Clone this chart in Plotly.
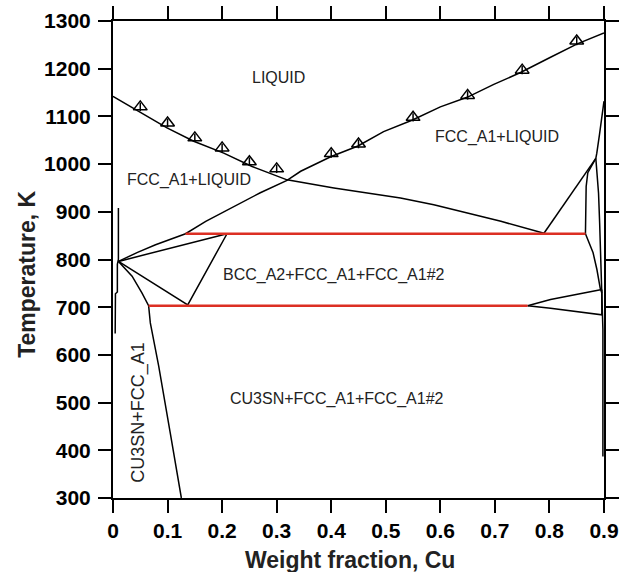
import plotly.graph_objects as go

# ---- calculated phase boundaries: weight fraction Cu vs temperature (K) ----
# liquidus falling from the Sn-rich side to the peritectic
liq_sn_x = [0.0, 0.047, 0.099, 0.148, 0.203, 0.255, 0.319, 0.405, 0.466, 0.527, 0.588, 0.649, 0.711, 0.790]
liq_sn_T = [1142, 1111, 1076, 1048, 1023, 995, 967, 950, 940, 929, 915, 898, 880, 855]

# liquidus rising towards the Cu-rich side
liq_cu_x = [0.010, 0.045, 0.078, 0.133, 0.170, 0.221, 0.270, 0.319, 0.344, 0.400, 0.449,
            0.496, 0.548, 0.600, 0.649, 0.698, 0.747, 0.802, 0.851, 0.900]
liq_cu_T = [796, 815, 831, 854, 880, 911, 940, 966, 985, 1016, 1038,
            1068, 1092, 1120, 1140, 1167, 1192, 1224, 1252, 1275]

# BCC_A2 three-phase triangle
bcc_x = [0.010, 0.209, 0.137, 0.010]
bcc_T = [796, 854, 705, 796]

# CU3SN + FCC_A1 boundary
cu3sn_x = [0.010, 0.035, 0.053, 0.0653, 0.0684, 0.0745, 0.0837, 0.105, 0.1253]
cu3sn_T = [796, 765, 730, 703, 667, 632, 577, 436, 300]

# Sn-rich solvus near x = 0
sn_solvus_x = [0.0099, 0.0099, 0.0080, 0.0080, 0.0045, 0.0040]
sn_solvus_T = [908, 800, 790, 732, 728, 645]

# Cu-rich side boundaries
fcc_liq_x = [0.790, 0.845, 0.885]
fcc_liq_T = [855, 946, 1012]
cu_solidus_x = [0.900, 0.8967, 0.8917, 0.8868, 0.885]
cu_solidus_T = [1132, 1100, 1062, 1023, 1012]
fcc2_upper_x = [0.885, 0.8703, 0.8673, 0.866]
fcc2_upper_T = [1012, 982, 953, 854]
fcc_solvus_x = [0.885, 0.890, 0.892, 0.894, 0.897, 0.898, 0.898]
fcc_solvus_T = [1012, 939, 877, 800, 737, 653, 387]
fcc2_lower_x = [0.866, 0.880, 0.887, 0.893, 0.896]
fcc2_lower_T = [854, 814, 779, 740, 730]
tri_upper_x = [0.760, 0.802, 0.863, 0.896]
tri_upper_T = [703, 716, 730, 737]
tri_lower_x = [0.760, 0.802, 0.896, 0.896]
tri_lower_T = [703, 698, 684, 737]

# invariant reactions
peritectic_x = [0.133, 0.866]
peritectic_T = [854, 854]
eutectoid_x = [0.0653, 0.760]
eutectoid_T = [703, 703]

# experimental liquidus points
exp_x = [0.05, 0.10, 0.15, 0.20, 0.25, 0.30, 0.40, 0.45, 0.55, 0.65, 0.75, 0.85]
exp_T = [1120, 1086, 1055, 1034, 1005, 990, 1022, 1042, 1098, 1144, 1197, 1258]

x_ticks = [0.0, 0.1, 0.2, 0.3, 0.4, 0.5, 0.6, 0.7, 0.8, 0.9]
x_tick_text = ["0", "0.1", "0.2", "0.3", "0.4", "0.5", "0.6", "0.7", "0.8", "0.9"]
T_ticks = [300, 400, 500, 600, 700, 800, 900, 1000, 1100, 1200, 1300]

fig = go.Figure()


def add_line(x, y, color="black", width=1.5, xa="x", ya="y"):
    fig.add_trace(go.Scatter(x=x, y=y, mode="lines", xaxis=xa, yaxis=ya,
                             line=dict(color=color, width=width),
                             hoverinfo="skip", showlegend=False))


black_curves = [
    (liq_sn_x, liq_sn_T), (liq_cu_x, liq_cu_T), (bcc_x, bcc_T),
    (cu3sn_x, cu3sn_T), (sn_solvus_x, sn_solvus_T), (fcc_liq_x, fcc_liq_T),
    (cu_solidus_x, cu_solidus_T), (fcc2_upper_x, fcc2_upper_T),
    (fcc_solvus_x, fcc_solvus_T), (fcc2_lower_x, fcc2_lower_T),
    (tri_upper_x, tri_upper_T), (tri_lower_x, tri_lower_T),
]
for cx, cy in black_curves:
    add_line(cx, cy)

# red invariant lines sit on the mirrored (top/right) axis pair, which matches x/y
add_line(peritectic_x, peritectic_T, color="#dc2f23", width=2.5, xa="x2", ya="y2")
add_line(eutectoid_x, eutectoid_T, color="#dc2f23", width=2.5, xa="x2", ya="y2")

# open triangles with a short inner stroke
fig.add_trace(go.Scatter(x=exp_x, y=exp_T, mode="markers",
                         marker=dict(symbol="triangle-up-open", size=12, color="black",
                                     line=dict(color="black", width=1.5)),
                         hoverinfo="skip", showlegend=False))
fig.add_trace(go.Scatter(x=exp_x, y=exp_T, mode="markers",
                         marker=dict(symbol="line-ns-open", size=6, color="black",
                                     line=dict(color="black", width=1.5)),
                         hoverinfo="skip", showlegend=False))

labels = [
    ("LIQUID", 0.304, 1181, 0, 16),
    ("FCC_A1+LIQUID", 0.704, 1057, 0, 16),
    ("FCC_A1+LIQUID", 0.139, 967, 0, 16),
    ("BCC_A2+FCC_A1+FCC_A1#2", 0.405, 768, 0, 16),
    ("CU3SN+FCC_A1+FCC_A1#2", 0.411, 507, 0, 16),
    ("CU3SN+FCC_A1", 0.047, 480, -90, 18),
]
for text, lx, ly, ang, fs in labels:
    fig.add_annotation(x=lx, y=ly, text=text, showarrow=False, textangle=ang,
                       font=dict(family="Liberation Sans, Arial", size=fs, color="#222"),
                       xanchor="center", yanchor="middle")

# axis titles
title_font = dict(family="Liberation Sans, Arial", size=23, color="#222")
fig.add_annotation(xref="paper", yref="paper", x=0.482, y=-0.129,
                   text="<b>Weight fraction, Cu</b>", showarrow=False,
                   font=title_font, xanchor="center", yanchor="middle")
fig.add_annotation(xref="paper", yref="paper", x=-0.175, y=0.468,
                   text="<b>Temperature, K</b>", showarrow=False, textangle=-90,
                   font=title_font, xanchor="center", yanchor="middle")

axis_common = dict(showline=True, linecolor="black", linewidth=2,
                   ticks="outside", ticklen=13, tickwidth=2, tickcolor="black",
                   showgrid=False, zeroline=False, automargin=False)
tick_font = dict(family="Liberation Sans, Arial", size=21, color="black", weight="bold")

fig.update_layout(
    xaxis=dict(range=[0, 0.9], tickvals=x_ticks, ticktext=x_tick_text,
               tickfont=tick_font, ticklabelstandoff=0, **axis_common),
    yaxis=dict(range=[300, 1300], tickvals=T_ticks,
               tickfont=tick_font, ticklabelstandoff=3, **axis_common),
    xaxis2=dict(range=[0, 0.9], tickvals=x_ticks, overlaying="x", side="top",
                anchor="y2", matches="x", showticklabels=False, **axis_common),
    yaxis2=dict(range=[300, 1300], tickvals=T_ticks, overlaying="y", side="right",
                anchor="x2", matches="y", showticklabels=False, **axis_common),
    width=625, height=572, margin=dict(l=113, r=21, t=21, b=74),
    plot_bgcolor="white", paper_bgcolor="white",
)

fig.write_html("out.html")
